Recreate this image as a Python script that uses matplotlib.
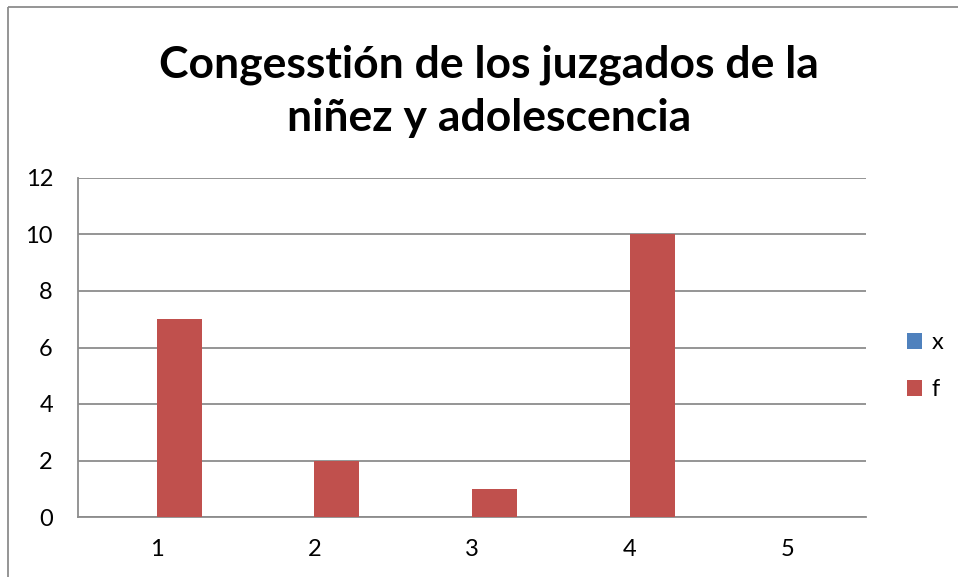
import matplotlib
matplotlib.use("Agg")
import matplotlib.pyplot as plt
from matplotlib.patches import Rectangle
import numpy as np

categories = ["1", "2", "3", "4", "5"]
series_x = [0, 0, 0, 0, 0]
series_f = [7, 2, 1, 10, 0]
title = "Congesstión de los juzgados de la\nniñez y adolescencia"
yticks = [0, 2, 4, 6, 8, 10, 12]

W, H = 958, 577
fig = plt.figure(figsize=(W / 100, H / 100), dpi=100)
plt.rcParams['font.family'] = ['Lato', 'DejaVu Sans']

# outer chart border
fig.patches.append(Rectangle((8 / W, 1 - 7 / H), 2, -2, transform=fig.transFigure,
                             fill=False, edgecolor="#8c8c8c", linewidth=1.3))

left, right, top, bottom = 78, 866, 178, 517
ax = fig.add_axes([left / W, 1 - bottom / H, (right - left) / W, (bottom - top) / H])

n = len(categories)
pos = np.arange(n)
bw = 1 / 3.5
ax.bar(pos - bw / 2, series_x, width=bw, color="#4F81BD", label="x", zorder=3)
ax.bar(pos + bw / 2, series_f, width=bw, color="#C0504D", label="f", zorder=3)

ax.set_xlim(-0.5, n - 0.5)
ax.set_ylim(0, 12)
ax.set_yticks(yticks)
ax.set_xticks(pos)
ax.set_xticklabels(categories)
ax.tick_params(length=0, labelsize=17)
ax.tick_params(axis='x', pad=16)
ax.tick_params(axis='y', pad=18)
ax.grid(axis='y', color="#8c8c8c", linewidth=1.3, zorder=0)
for s in ["top", "right"]:
    ax.spines[s].set_visible(False)
for s in ["left", "bottom"]:
    ax.spines[s].set_color("#8c8c8c")
    ax.spines[s].set_linewidth(1.3)

fig.text(489 / W, 1 - 91 / H, title, ha="center", va="center", fontsize=32,
         fontweight="bold", linespacing=1.38)

fig.legend(loc="center left", bbox_to_anchor=(907 / W, 1 - 366 / H),
           bbox_transform=fig.transFigure, frameon=False, borderpad=0,
           borderaxespad=0, fontsize=17, handlelength=0.65, handleheight=0.65,
           labelspacing=1.1, handletextpad=0.4)

fig.savefig("out.png", dpi=100)
